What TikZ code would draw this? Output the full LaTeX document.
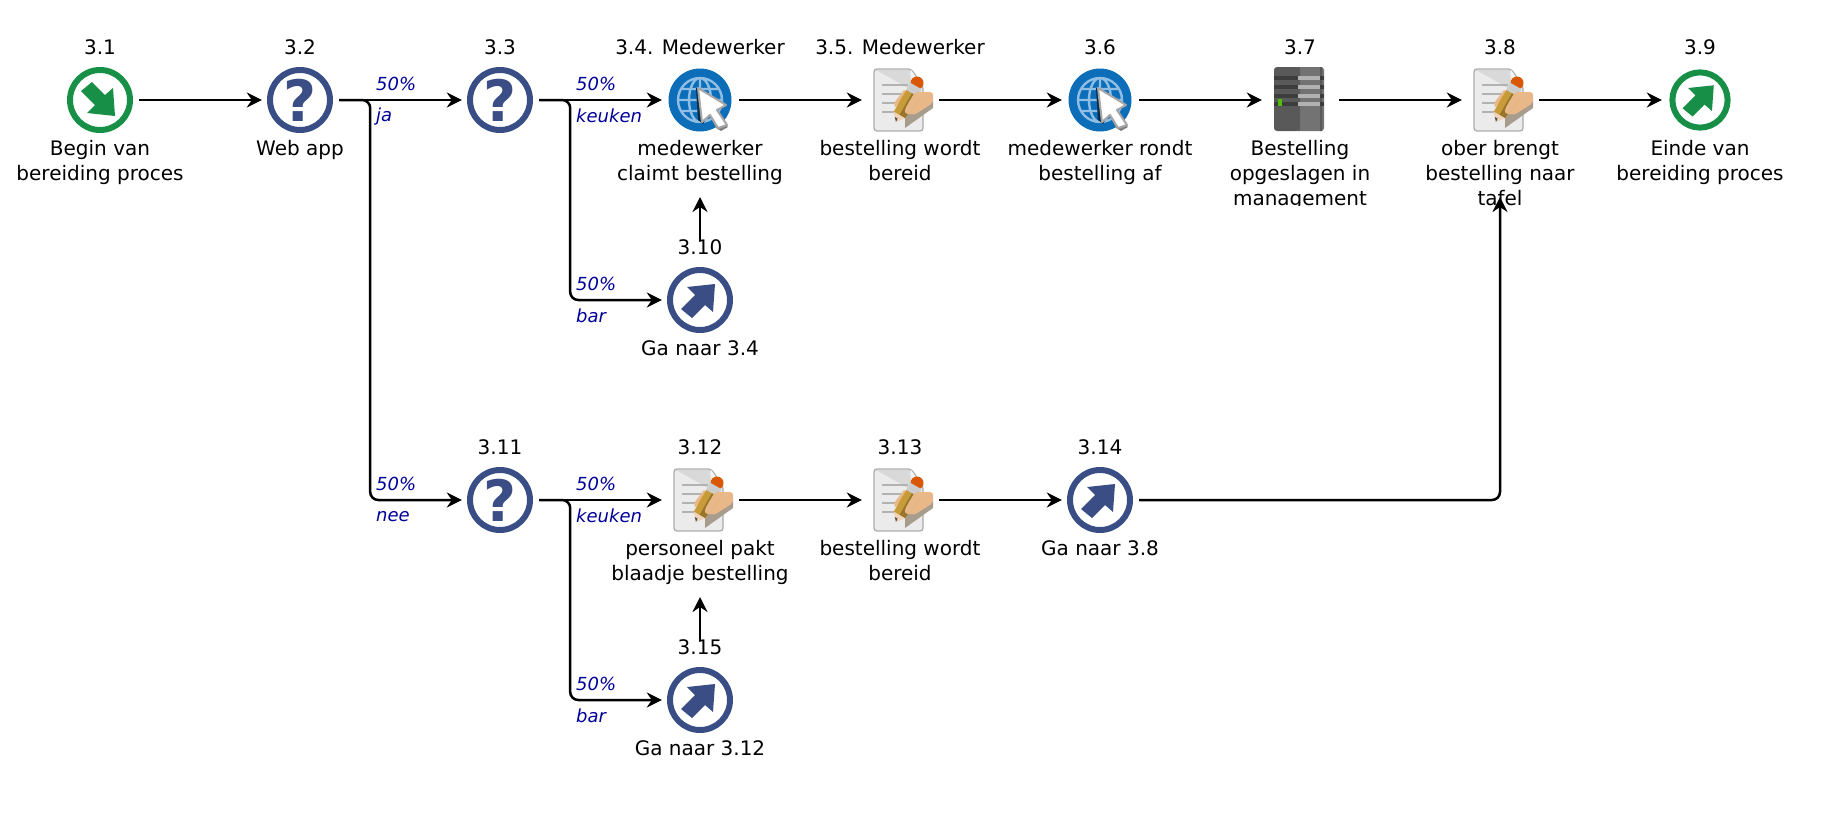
\documentclass[tikz,border=0pt]{standalone}
\usepackage{fontspec}
\setmainfont{DejaVu Sans}
\usetikzlibrary{arrows.meta}

\definecolor{gateblue}{HTML}{3A4E85}
\definecolor{startgreen}{HTML}{178F46}
\definecolor{edgeblue}{HTML}{000099}
\definecolor{globeblue}{HTML}{0C6DB9}
\definecolor{gridblue}{HTML}{8FBEE4}
\definecolor{skin}{HTML}{E8B888}
\definecolor{handshade}{HTML}{A89C8C}
\definecolor{pencilbody}{HTML}{C89C38}
\definecolor{pencildark}{HTML}{96762A}

\begin{document}
\begin{tikzpicture}[x=1pt,y=-1pt,
    vertex/.style={rectangle,minimum size=80pt,inner sep=0pt},
    numtext/.style={font=\fontsize{20}{25}\selectfont,inner sep=0pt,label distance=4.4pt},
    captext/.style={font=\fontsize{20}{25}\selectfont,inner sep=0pt,align=center,label distance=-0.2pt,execute at begin node=\strut},
    capone/.style={captext,label distance=-2pt},
    edgetext/.style={font=\fontsize{18}{20}\selectfont\itshape,text=edgeblue,inner sep=0pt,anchor=west},
    qmark/.style={font=\fontsize{57}{57}\selectfont\bfseries,text=gateblue},
    flow/.style={->,line width=2.5pt,rounded corners=8pt,shorten >=-2pt,shorten <=-1pt},
    pics/gateicon/.style={code={
      \draw[line width=6pt,draw=gateblue] (0,0) circle (30);
    }},
    pics/starticon/.style={code={
      \draw[line width=6pt,draw=startgreen] (0,0) circle (30);
      \fill[startgreen] (-8,-18) -- (5,-5) -- (13,-12) -- (15,16) -- (-13,13) -- (-5,5) -- (-19,-9) -- cycle;
    }},
    pics/linkicon/.style={code={
      \draw[line width=6pt,draw=#1] (0,0) circle (30);
      \fill[#1] (-8,18) -- (5,5) -- (13,12) -- (15,-16) -- (-13,-13) -- (-5,-5) -- (-19,9) -- cycle;
    }},
    pics/globeicon/.style={code={
      \fill[globeblue] (0,0) circle (31.5);
      \draw[gridblue,line width=2.4pt] (0,0) circle (22) (0,0) ellipse (11 and 22) (0,-22) -- (0,22)
        (-22,0) -- (22,0) (-19,-11) -- (19,-11) (-19,11) -- (19,11);
      \fill[black!60!globeblue] (-4,-12) -- (-2,-12) -- (8,15) -- (3,24) -- (-2,20) -- cycle;
      \fill[black!50] (10,15) -- (16,28) -- (21,31) -- (28,27) -- (18,20) -- cycle;
      \draw[fill=white,draw=black!35,line width=2pt,line join=round] (-2,-12) -- (26,5) -- (17,10) -- (27,25)
        -- (18,28) -- (10,15) -- (2,22) -- cycle;
    }},
    pics/docicon/.style={code={
      \draw[fill=black!8,draw=black!32,line width=1.3pt,rounded corners=3pt] (-26,-31) -- (11,-31) -- (23,-14) -- (23,31) -- (-26,31) -- cycle;
      \fill[black!15] (-24,-30) -- (10,-30) -- (11,-13) -- (8,-12) -- cycle;
      \fill[black!4] (11,-30) -- (22,-14) -- (12,-13) -- cycle;
      \draw[black!30,line width=1.5pt] (-18,-15) -- (8,-15) (-18,-6) -- (4,-6) (-18,3) -- (-2,3) (-18,12) -- (-6,12);
      \fill[handshade] (5,28) -- (33,8) -- (33,0) -- (5,14) -- cycle;
      \fill[skin] (4,-10) -- (-6,3) -- (-5,7) -- (10,-4) -- cycle;
      \fill[orange!80!red!85!black] (17,-17) circle (6.5);
      \fill[pencilbody] (17.7,-3.8) -- (6.3,-10.2) -- (-6.3,11.8) -- (5.1,18.2) -- cycle;
      \fill[pencildark] (17.7,-3.8) -- (12,-7) -- (-.6,15) -- (5.1,18.2) -- cycle;
      \fill[black!20] (21.7,-10.8) -- (10.3,-17.2) -- (6.3,-10.2) -- (17.7,-3.8) -- cycle;
      \fill[skin!60!white] (5.1,18.2) -- (-6.3,11.8) -- (-4,22) -- cycle;
      \fill[black!70] (-2.5,18.5) -- (-5.2,17) -- (-4,22) -- cycle;
      \fill[skin,rounded corners=3pt] (33,-8) -- (15,-8) -- (6,7) -- (4,13) -- (14,15) -- (33,3) -- cycle;
    }},
    pics/servericon/.style={code={
      \fill[black!65,rounded corners=3pt] (-26,-33) rectangle (0,31);
      \fill[black!55,rounded corners=3pt] (-2,-33) rectangle (24,31);
      \fill[black!65] (-2,-33) rectangle (0,31) (20,-33) -- (20,31) -- (22,31) -- (22,-33) -- cycle;
      \foreach \ybar in {-22,-13,-4,4} {
        \fill[black!76] (-26,\ybar-2) rectangle (-2,\ybar+2);
        \fill[black!30] (-2,\ybar-2) rectangle (20,\ybar+2);
        \fill[black!76] (20,\ybar-2) rectangle (24,\ybar+2);
      }
      \fill[green!60!yellow!75!black] (-22,-1) rectangle (-18,6);
    }},
    >={Stealth[length=15pt,width=15pt,inset=5pt]}]

\useasboundingbox (0,0) rectangle (1840,839);

% Top row
\node[vertex,label={[numtext,name=t1]above:3.1},label={[captext,name=c1]below:Begin van\\bereiding proces}] (n1) at (100,100) {};
\pic at (n1) {starticon};
\node[vertex,qmark,label={[numtext,name=t2]above:3.2},label={[capone,name=c2]below:Web app}] (n2) at (300,100) {?};
\pic at (n2) {gateicon};
\node[vertex,qmark,label={[numtext,name=t3]above:3.3}] (n3) at (500,100) {?};
\pic at (n3) {gateicon};
\node[vertex,label={[numtext,name=t4]above:3.4. Medewerker},label={[captext,name=c4]below:medewerker\\claimt bestelling}] (n4) at (700,100) {};
\pic at (n4) {globeicon};
\node[vertex,label={[numtext,name=t5]above:3.5. Medewerker},label={[captext,name=c5]below:bestelling wordt\\bereid}] (n5) at (900,100) {};
\pic at (n5) {docicon};
\node[vertex,label={[numtext,name=t6]above:3.6},label={[captext,name=c6]below:medewerker rondt\\bestelling af}] (n6) at (1100,100) {};
\pic at (n6) {globeicon};
\begin{scope}
\clip (1200,0) rectangle (1400,205);
\node[vertex,label={[numtext,name=t7]above:3.7},label={[captext,name=c7]below:Bestelling\\opgeslagen in\\management}] (n7) at (1300,100) {};
\pic at (n7) {servericon};
\end{scope}
\node[vertex,label={[numtext,name=t8]above:3.8},label={[captext,name=c8]below:ober brengt\\bestelling naar\\tafel}] (n8) at (1500,100) {};
\pic at (n8) {docicon};
\node[vertex,label={[numtext,name=t9]above:3.9},label={[captext,name=c9]below:Einde van\\bereiding proces}] (n9) at (1700,100) {};
\pic[scale=.92] at (n9) {linkicon=startgreen};

% Second and third row
\node[vertex,label={[numtext,name=t10]above:3.10},label={[capone,name=c10]below:Ga naar 3.4}] (n10) at (700,300) {};
\pic at (n10) {linkicon=gateblue};
\node[vertex,qmark,label={[numtext,name=t11]above:3.11}] (n11) at (500,500) {?};
\pic at (n11) {gateicon};
\node[vertex,label={[numtext,name=t12]above:3.12},label={[captext,name=c12]below:personeel pakt\\blaadje bestelling}] (n12) at (700,500) {};
\pic at (n12) {docicon};
\node[vertex,label={[numtext,name=t13]above:3.13},label={[captext,name=c13]below:bestelling wordt\\bereid}] (n13) at (900,500) {};
\pic at (n13) {docicon};
\node[vertex,label={[numtext,name=t14]above:3.14},label={[capone,name=c14]below:Ga naar 3.8}] (n14) at (1100,500) {};
\pic at (n14) {linkicon=gateblue};
\node[vertex,label={[numtext,name=t15]above:3.15},label={[capone,name=c15]below:Ga naar 3.12}] (n15) at (700,700) {};
\pic at (n15) {linkicon=gateblue};

% Free ends of the upward arrows
\coordinate (s10) at (700,240);
\coordinate (e4) at (700,199);
\coordinate (s15) at (700,640);
\coordinate (e12) at (700,599);
\coordinate (e8) at (1500,199);

% Top row flow
\draw[flow] (n1) -- (n2);
\draw[flow] (n2) -- (n3);
\draw[flow] (n3) -- (n4);
\draw[flow] (n4) -- (n5);
\draw[flow] (n5) -- (n6);
\draw[flow] (n6) -- (n7);
\draw[flow] (n7) -- (n8);
\draw[flow] (n8) -- (n9);

% Branches
\draw[flow] (n2.east) -- ++(30,0) |- (n11.west);
\draw[flow] (n3.east) -- ++(30,0) |- (n10.west);
\draw[flow] (n11.east) -- ++(30,0) |- (n15.west);
\draw[flow] (s10) -- (e4);
\draw[flow] (s15) -- (e12);

% Bottom row flow
\draw[flow] (n11) -- (n12);
\draw[flow] (n12) -- (n13);
\draw[flow] (n13) -- (n14);
\draw[flow] (n14.east) -| (e8);

% Percentages and conditions
\node[edgetext] (p1) at (376,84) {50\%};
\node[edgetext] (q1) at (376,117) {ja};
\node[edgetext] (p2) at (376,484) {50\%};
\node[edgetext] (q2) at (376,517) {nee};
\node[edgetext] (p3) at (576,84) {50\%};
\node[edgetext] (q3) at (576,116) {keuken};
\node[edgetext] (p4) at (576,284) {50\%};
\node[edgetext] (q4) at (576,316) {bar};
\node[edgetext] (p5) at (576,484) {50\%};
\node[edgetext] (q5) at (576,516) {keuken};
\node[edgetext] (p6) at (576,684) {50\%};
\node[edgetext] (q6) at (576,716) {bar};

\end{tikzpicture}
\end{document}
